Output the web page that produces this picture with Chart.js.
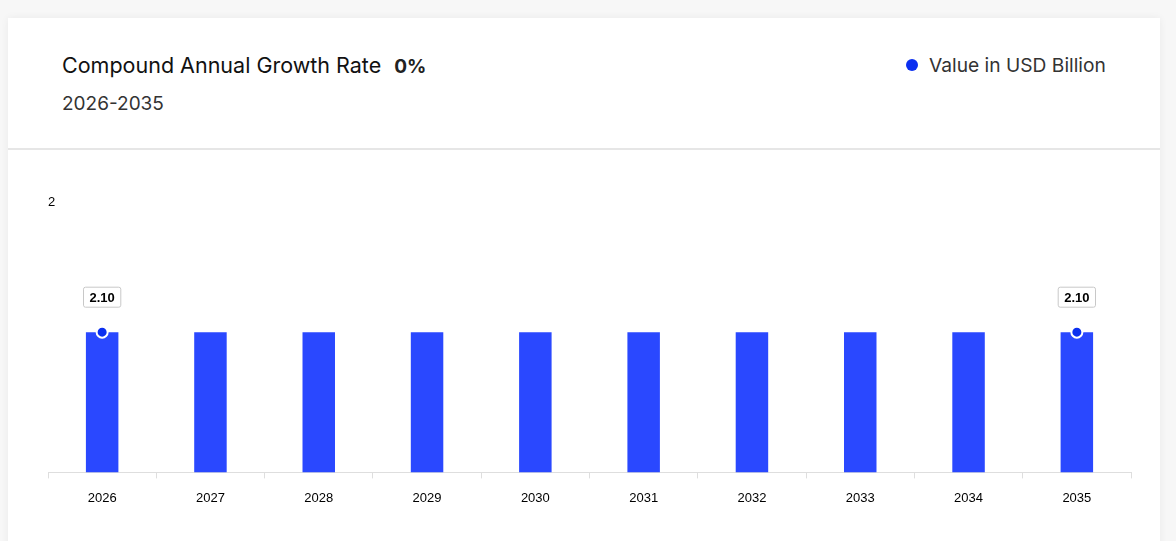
<!DOCTYPE html>
<html>
<head>
<meta charset="utf-8">
<script src="https://cdn.jsdelivr.net/npm/chart.js@4.4.1/dist/chart.umd.min.js"></script>
<style>
  html, body { margin: 0; padding: 0; background: #f7f7f7; }
  body { width: 1176px; height: 541px; overflow: hidden; position: relative; font-family: Inter, "Noto Sans", sans-serif; }
  .card { position: absolute; left: 8px; top: 18px; width: 1152px; height: 560px; background: #fff;
          box-shadow: 0 0 8px rgba(0,0,0,0.06); }
  .head { position: absolute; left: 0; top: 0; width: 100%; height: 130px; border-bottom: 2px solid #e6e6e6; }
  .title { position: absolute; left: 54px; top: 34px; font-size: 21.5px; color: #111; white-space: nowrap; }
  .title b { margin-left: 7px; font-size: 19px; font-weight: 700; color: #222; }
  .years { position: absolute; left: 54px; top: 74px; font-size: 19px; color: #333; }
  .legend { position: absolute; left: 898px; top: 35px; font-size: 19.2px; color: #333; white-space: nowrap; }
  .legend i { display: inline-block; width: 12px; height: 12px; border-radius: 50%; background: #0b2ff0; margin-right: 11px; vertical-align: 1px; }
  .plot { position: absolute; left: 0; top: 132px; width: 1152px; height: 391px; }
</style>
</head>
<body>
<div class="card">
  <div class="head">
    <div class="title">Compound Annual Growth Rate <b>0%</b></div>
    <div class="years">2026-2035</div>
    <div class="legend"><i></i>Value in USD Billion</div>
  </div>
  <div class="plot"><canvas id="myChart"></canvas></div>
</div>
<script>
// data
var years = ['2026', '2027', '2028', '2029', '2030', '2031', '2032', '2033', '2034', '2035'];
var values = [2.10, 2.10, 2.10, 2.10, 2.10, 2.10, 2.10, 2.10, 2.10, 2.10];
var yTickLabels = ['2'];
var yMax = 4.05;

var barColor = '#2a48ff';
var dotColor = '#0b2ff0';

function isEnd(i) {
    return i === 0 || i === values.length - 1;
}

// boxed value labels over the first and last point
const endLabels = {
    id: 'endLabels',
    afterDatasetsDraw(chart) {
        const ctx = chart.ctx;
        const meta = chart.getDatasetMeta(1);
        ctx.save();
        ctx.font = 'bold 13px "Liberation Sans", Arial, sans-serif';
        ctx.textAlign = 'center';
        ctx.textBaseline = 'middle';
        meta.data.forEach(function (pt, i) {
            if (!isEnd(i)) return;
            const txt = values[i].toFixed(2);
            const w = ctx.measureText(txt).width + 12;
            const h = 20;
            const cx = pt.x, cy = pt.y - 35;
            ctx.beginPath();
            ctx.roundRect(cx - w / 2, cy - h / 2, w, h, 2);
            ctx.fillStyle = '#fff';
            ctx.fill();
            ctx.strokeStyle = '#c8c8c8';
            ctx.lineWidth = 1;
            ctx.stroke();
            ctx.fillStyle = '#000';
            ctx.fillText(txt, cx, cy + 1);
        });
        ctx.restore();
    }
};

const data = {
    labels: years,
    datasets: [{
        type: 'bar',
        label: 'Value in USD Billion',
        data: values,
        backgroundColor: barColor,
        barPercentage: 0.3,
        categoryPercentage: 1,
        order: 2
    }, {
        type: 'line',
        label: 'points',
        data: values,
        showLine: false,
        pointRadius: function (c) { return isEnd(c.dataIndex) ? 5.5 : 0; },
        pointBackgroundColor: dotColor,
        pointBorderColor: '#fff',
        pointBorderWidth: 2,
        order: 1
    }]
};

const config = {
    data: data,
    options: {
        responsive: true,
        maintainAspectRatio: false,
        animation: false,
        layout: { padding: { left: 32, right: 29, top: 52, bottom: 23 } },
        plugins: { legend: { display: false }, tooltip: { enabled: false } },
        scales: {
            x: {
                grid: { offset: true, drawOnChartArea: false, tickLength: 6, color: '#dedede' },
                border: { color: '#dedede' },
                ticks: { color: '#000', padding: 12, font: { size: 13, family: '"Liberation Sans", Arial, sans-serif' } }
            },
            y: {
                min: 0,
                max: yMax,
                grid: { display: false },
                border: { display: false },
                afterBuildTicks: function (scale) { scale.ticks = [{ value: scale.max }]; },
                ticks: {
                    mirror: true,
                    padding: 0,
                    color: '#000',
                    font: { size: 13, family: '"Liberation Sans", Arial, sans-serif' },
                    callback: function (v, i) { return yTickLabels[i]; }
                }
            }
        }
    },
    plugins: [endLabels]
};

const myChart = new Chart(document.getElementById('myChart'), config);
</script>
</body>
</html>
